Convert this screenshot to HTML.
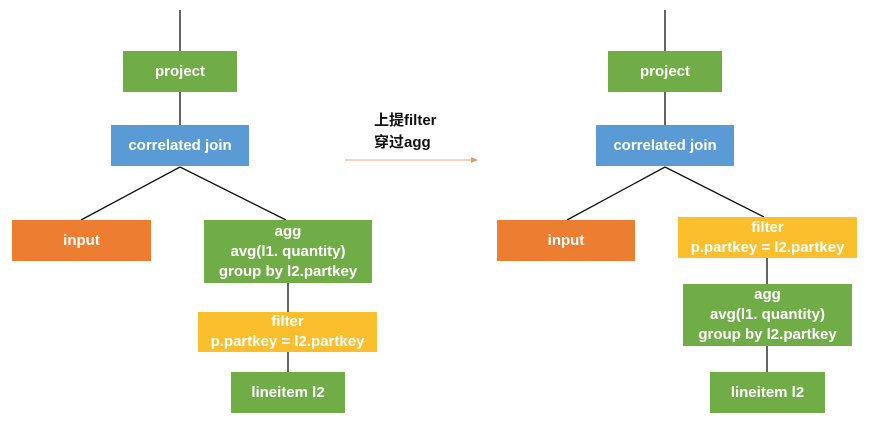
<!DOCTYPE html>
<html><head><meta charset="utf-8"><style>
html,body{margin:0;padding:0;background:#fff;}
body{width:869px;height:425px;position:relative;overflow:hidden;font-family:"Liberation Sans","Noto Sans CJK SC",sans-serif;}
.b{position:absolute;color:#fff;font-size:15px;font-weight:bold;line-height:20px;text-align:center;display:flex;flex-direction:column;justify-content:center;align-items:center;}
.g{background:#70ad47;}.bl{background:#5b9bd5;}.o{background:#ed7d31;}.y{background:#fbbf2d;}
svg{position:absolute;left:0;top:0;}
.t{position:absolute;left:374px;top:110px;font-size:15px;font-weight:bold;line-height:22px;color:#111;}
</style></head><body>
<svg width="869" height="425">
<g stroke="#111" stroke-width="1.3" fill="none">
<line x1="180" y1="10" x2="180" y2="51"/>
<line x1="180" y1="92" x2="180" y2="125"/>
<line x1="180" y1="167" x2="81" y2="220"/>
<line x1="180" y1="167" x2="286" y2="220"/>
<line x1="288" y1="283" x2="288" y2="312"/>
<line x1="288" y1="352" x2="288" y2="372"/>
<line x1="665" y1="10" x2="665" y2="51"/>
<line x1="665" y1="92" x2="665" y2="125"/>
<line x1="665" y1="167" x2="567" y2="220"/>
<line x1="665" y1="167" x2="764" y2="217"/>
<line x1="767" y1="258" x2="767" y2="284"/>
<line x1="767" y1="346" x2="767" y2="372"/>
</g>
<line x1="345" y1="160" x2="473" y2="160" stroke="#e8a67a" stroke-width="1"/>
<polygon points="478,160 471,157 471,163" fill="#e39a6a"/>
</svg>
<div class="t">上提filter<br>穿过agg</div>
<div class="b g" style="left:123px;top:51px;width:114px;height:41px;">project</div>
<div class="b bl" style="left:111px;top:125px;width:138px;height:41px;">correlated join</div>
<div class="b o" style="left:12px;top:220px;width:139px;height:41px;">input</div>
<div class="b g" style="left:204px;top:220px;width:168px;height:63px;">agg<br>avg(l1. quantity)<br>group by l2.partkey</div>
<div class="b y" style="left:198px;top:312px;width:179px;height:40px;">filter<br>p.partkey = l2.partkey</div>
<div class="b g" style="left:231px;top:372px;width:114px;height:41px;">lineitem l2</div>
<div class="b g" style="left:608px;top:51px;width:114px;height:41px;">project</div>
<div class="b bl" style="left:596px;top:125px;width:138px;height:41px;">correlated join</div>
<div class="b o" style="left:497px;top:220px;width:138px;height:41px;">input</div>
<div class="b y" style="left:678px;top:217px;width:179px;height:41px;">filter<br>p.partkey = l2.partkey</div>
<div class="b g" style="left:683px;top:284px;width:169px;height:62px;">agg<br>avg(l1. quantity)<br>group by l2.partkey</div>
<div class="b g" style="left:710px;top:372px;width:115px;height:41px;">lineitem l2</div>
</body></html>
